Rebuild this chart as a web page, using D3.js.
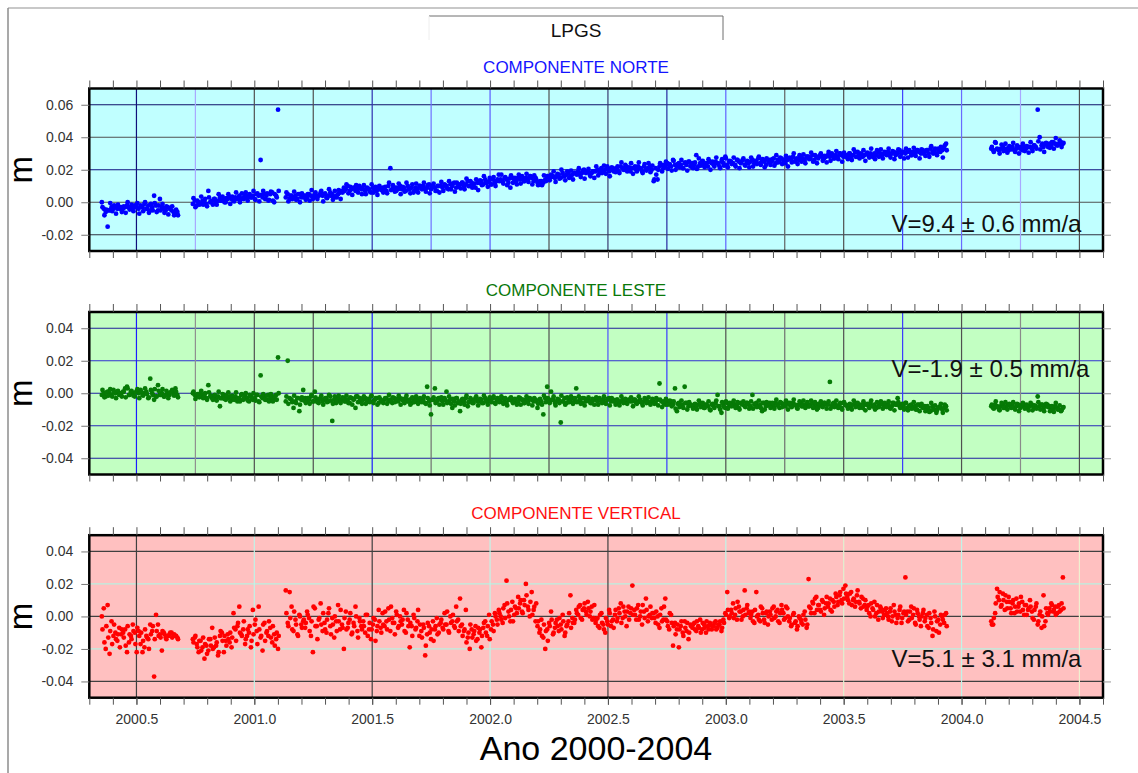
<!DOCTYPE html>
<html><head><meta charset="utf-8">
<script src="https://cdn.jsdelivr.net/npm/d3@7"></script>
<style>
body{margin:0;background:#fff}
svg{display:block}
text{font-family:"Liberation Sans",Arial,Helvetica,sans-serif}
</style>
</head><body>
<svg id="c" width="1138" height="773"></svg>
<script>
// ---------------- DATA ----------------
const stationName = "LPGS";
const xAxisTitle = "Ano 2000-2004";
const yAxisTitle = "m";
const panelTitles = ["COMPONENTE NORTE", "COMPONENTE LESTE", "COMPONENTE VERTICAL"];
const velocityLabels = ["V=9.4 \u00b1 0.6 mm/a", "V=-1.9 \u00b1 0.5 mm/a", "V=5.1 \u00b1 3.1 mm/a"];
const xTickLabels = [2000.5, 2001.0, 2001.5, 2002.0, 2002.5, 2003.0, 2003.5, 2004.0, 2004.5];
const yTicksNorte = [-0.02, 0.00, 0.02, 0.04, 0.06];
const yTicksLeste = [-0.04, -0.02, 0.00, 0.02, 0.04];
const yTicksVertical = [-0.04, -0.02, 0.00, 0.02, 0.04];

// epochs (set 1): days since 2000.0
const epochDays = [
129,132,135,138,141,144,147,150,153,156,159,162,165,168,171,174,177,180,183,186,
189,192,195,198,201,204,207,210,213,216,219,222,225,228,231,234,237,240,243,246,
270,273,276,279,282,285,288,291,294,297,300,303,306,309,312,315,318,321,324,327,
330,333,336,339,342,345,348,351,354,357,360,363,366,369,372,375,378,381,384,387,
390,393,396,399,402,
414,417,420,423,426,429,432,435,438,441,444,447,450,453,456,459,462,465,468,471,
474,477,480,483,486,489,492,495,498,501,504,507,510,513,516,519,522,525,528,531,
534,537,540,543,546,549,552,555,558,561,564,567,570,573,576,579,582,585,588,591,
594,597,600,603,606,609,612,615,618,621,624,627,630,633,636,639,642,645,648,651,
654,657,660,663,666,669,672,675,678,681,684,687,690,693,696,699,702,705,708,711,
714,717,720,723,726,729,732,735,738,741,744,747,750,753,756,759,762,765,768,771,
774,777,780,783,786,789,792,795,798,801,804,807,810,813,816,819,822,825,828,831,
834,837,840,843,846,849,852,855,858,861,864,867,870,873,876,879,882,885,888,891,
894,897,900,903,906,909,912,915,918,921,924,927,930,933,936,939,942,945,948,951,
954,957,960,963,966,969,972,975,978,981,984,987,990,993,996,999,1002,1005,1008,1011,
1014,1017,1020,1023,1026,1029,1032,1035,1038,1041,1044,1047,1050,1053,1056,1059,1062,1065,1068,1071,
1074,1077,1080,1083,1086,1089,1092,1095,1098,1101,1104,1107,1110,1113,1116,1119,1122,1125,1128,1131,
1134,1137,1140,1143,1146,1149,1152,1155,1158,1161,1164,1167,1170,1173,1176,1179,1182,1185,1188,1191,
1194,1197,1200,1203,1206,1209,1212,1215,1218,1221,1224,1227,1230,1233,1236,1239,1242,1245,1248,1251,
1254,1257,1260,1263,1266,1269,1272,1275,1278,1281,1284,1287,1290,1293,1296,1299,1302,1305,1308,1311,
1314,1317,1320,1323,1326,1329,1332,1335,1338,1341,1344,1347,1350,1353,1356,1359,1362,1365,1368,1371,
1374,1377,1380,1383,1386,1389,1392,1395,1398,1401,1404,1407,1410,1413,1416,1419,1422,1425,1428,1431,
1434,1437,
1507,1510,1513,1516,1519,1522,1525,1528,1531,1534,1537,1540,1543,1546,1549,1552,1555,1558,1561,1564,
1567,1570,1573,1576,1579,1582,1585,1588,1591,1594,1597,1600,1603,1606,1609,1612,1615,1618
];

// epochs (set 2): days since 2000.0
const epochDays2 = [
130,133,136,139,142,145,148,151,154,157,160,163,166,169,172,175,178,181,184,187,
190,193,196,199,202,205,208,211,214,217,220,223,226,229,232,235,238,241,244,247,
271,274,277,280,283,286,289,292,295,298,301,304,307,310,313,316,319,322,325,328,
331,334,337,340,343,346,349,352,355,358,361,364,367,370,373,376,379,382,385,388,
391,394,397,400,403,
415,418,421,424,427,430,433,436,439,442,445,448,451,454,457,460,463,466,469,472,
475,478,481,484,487,490,493,496,499,502,505,508,511,514,517,520,523,526,529,532,
535,538,541,544,547,550,553,556,559,562,565,568,571,574,577,580,583,586,589,592,
595,598,601,604,607,610,613,616,619,622,625,628,631,634,637,640,643,646,649,652,
655,658,661,664,667,670,673,676,679,682,685,688,691,694,697,700,703,706,709,712,
715,718,721,724,727,730,733,736,739,742,745,748,751,754,757,760,763,766,769,772,
775,778,781,784,787,790,793,796,799,802,805,808,811,814,817,820,823,826,829,832,
835,838,841,844,847,850,853,856,859,862,865,868,871,874,877,880,883,886,889,892,
895,898,901,904,907,910,913,916,919,922,925,928,931,934,937,940,943,946,949,952,
955,958,961,964,967,970,973,976,979,982,985,988,991,994,997,1000,1003,1006,1009,1012,
1015,1018,1021,1024,1027,1030,1033,1036,1039,1042,1045,1048,1051,1054,1057,1060,1063,1066,1069,1072,
1075,1078,1081,1084,1087,1090,1093,1096,1099,1102,1105,1108,1111,1114,1117,1120,1123,1126,1129,1132,
1135,1138,1141,1144,1147,1150,1153,1156,1159,1162,1165,1168,1171,1174,1177,1180,1183,1186,1189,1192,
1195,1198,1201,1204,1207,1210,1213,1216,1219,1222,1225,1228,1231,1234,1237,1240,1243,1246,1249,1252,
1255,1258,1261,1264,1267,1270,1273,1276,1279,1282,1285,1288,1291,1294,1297,1300,1303,1306,1309,1312,
1315,1318,1321,1324,1327,1330,1333,1336,1339,1342,1345,1348,1351,1354,1357,1360,1363,1366,1369,1372,
1375,1378,1381,1384,1387,1390,1393,1396,1399,1402,1405,1408,1411,1414,1417,1420,1423,1426,1429,1432,
1435,1438,
1508,1511,1514,1517,1520,1523,1526,1529,1532,1535,1538,1541,1544,1547,1550,1553,1556,1559,1562,1565,
1568,1571,1574,1577,1580,1583,1586,1589,1592,1595,1598,1601,1604,1607,1610,1613,1616,1619
];

// north component, mm (set 1)
const norteMM = [
0,-4,-6,-15,-5,-3,-4,-3,-4,-3,-3,-4,-3,-2,-3,-4,-3,-2,-3,-4,
-2,-3,-1,-4,-2,-5,-3,4,-2,-5,2,-3,-4,-5,-3,-4,-5,-6,-7,-6,
-1,1,-2,0,-1,1,0,-1,7,0,1,2,0,1,3,1,2,0,2,3,
2,1,3,2,4,2,3,5,3,4,3,4,2,5,4,26,3,5,4,1,
5,6,0,4,57,
3,5,2,4,3,4,2,5,3,4,4,3,5,4,2,5,3,4,6,4,
5,3,4,6,5,3,4,5,6,7,9,8,10,7,8,9,7,8,10,8,
8,7,9,8,6,9,8,7,9,8,9,8,7,10,21,8,9,7,8,10,
8,9,7,10,8,9,6,9,8,10,9,10,8,9,11,8,10,9,7,10,
10,9,11,10,8,11,10,12,9,11,11,12,10,11,13,10,12,11,9,12,
12,13,11,14,12,13,11,14,12,13,17,14,13,15,14,12,9,15,14,13,
15,14,16,13,15,14,16,15,13,15,12,11,13,12,14,16,15,17,16,15,
16,17,15,18,16,17,18,16,17,18,18,19,17,18,20,18,19,17,18,19,
19,20,18,21,19,20,22,19,20,21,20,21,19,22,21,20,22,21,19,21,
21,20,22,21,19,22,20,21,22,20,13,21,14,22,23,21,22,24,23,22,
26,23,22,24,23,21,24,23,25,22,24,23,29,22,24,25,23,24,22,25,
24,23,25,24,22,25,24,28,23,25,25,24,23,26,25,24,26,23,25,24,
25,26,24,25,27,24,26,25,23,26,26,25,27,24,26,25,27,26,24,26,
27,26,28,25,27,26,28,27,26,28,28,27,29,26,28,27,29,28,27,28,
29,28,30,27,29,28,30,29,28,29,29,30,28,29,31,28,29,30,28,29,
30,29,30,28,30,29,31,30,29,30,30,31,29,30,31,29,30,32,30,31,
30,31,32,29,31,30,32,31,30,32,31,32,30,33,31,32,30,33,31,32,
33,36,
33,32,37,33,32,33,34,32,33,32,33,34,32,33,34,33,32,34,33,34,
34,33,35,34,57,40,35,34,36,35,36,35,37,36,35,36,37,36
];
// north component, mm (set 2)
const norteMM2 = [
-3,-8,-4.5,-5,-0.5,-5.5,-2,-7,-1.5,-4,-6,-2.5,-6.5,0,-4.5,-1.5,-5.5,-3,-0.5,-7,
-2.5,-5.5,0,-4,-6.5,-1,-5,-0.5,-6,-2,-5,-1,-6.5,-2.5,-7.5,-3.5,-2.5,-8,-4.5,-8,
2.5,-3,1,-1.5,3.5,-1.5,2,-2.5,3,0.5,-1.5,2,-1.5,5,1,3.5,0,2.5,5,-1,
3.5,0.5,6,2.5,0,5.5,2,6,1,5,3,7,1.5,5.5,0.5,4.5,7,2,5.5,1.5,
6.5,1,5,3,7,
6,0.5,4,2,6.5,1.5,5,0,5.5,3,1.5,5,1,7.5,3,6,2,4.5,7,0.5,
5.5,2.5,8,4,1.5,7,3,7.5,2,6,7,11,5.5,9.5,4.5,8.5,10.5,6,9,5,
10.5,5,8.5,6.5,11,6,9.5,4.5,10,7.5,6,9.5,5.5,12,7.5,10.5,6.5,9,11.5,5,
9.5,6.5,12,8,5.5,11,7,11.5,6,10,8,12,6.5,10.5,5.5,9.5,11.5,7,10,6,
12.5,7,10.5,8.5,13,8,11.5,6.5,12,9.5,8.5,12,8,14.5,10,13,9,11.5,14,7.5,
13.5,10.5,16,12,9.5,15,11,15.5,10,14,13,17,11.5,15.5,10.5,14.5,16.5,12,15,11,
17,11.5,15,13,17.5,12.5,16,11,16.5,14,10.5,13,10.5,16.5,13,16,13.5,15.5,19,12.5,
17.5,14.5,20,16,13.5,19,15,19.5,14,18,17,21,15.5,19.5,14.5,18.5,20.5,16,19,15,
22,16.5,20,18,22.5,17.5,21,16,21.5,19,18.5,22,18,24.5,20,23,19,21.5,24,17.5,
22,19,24.5,20.5,18,23.5,19.5,24,18.5,22.5,14,17,20,24,19,23,25,20.5,23.5,19.5,
25.5,20,23.5,21.5,26,21,24.5,19.5,25,22.5,21,24.5,20.5,27,22.5,25.5,21.5,24,26.5,20,
25,22,27.5,23.5,21,26.5,22.5,27,21.5,25.5,23.5,27.5,22,26,21,25,27,22.5,25.5,21.5,
27.5,22,25.5,23.5,28,23,26.5,21.5,27,24.5,23,26.5,22.5,29,24.5,27.5,23.5,26,28.5,22,
27.5,24.5,30,26,23.5,29,25,29.5,24,28,26.5,30.5,25,29,24,28,30,25.5,28.5,24.5,
31,25.5,29,27,31.5,26.5,30,25,30.5,28,26.5,30,26,32.5,28,31,27,29.5,32,25.5,
30.5,27.5,33,29,26.5,32,28,32.5,27,31,29,33,27.5,31.5,26.5,30.5,32.5,28,31,27,
33,27.5,31,29,33.5,28.5,32,27,32.5,30,28.5,32,28,34.5,30,33,29,31.5,34,27.5,
35,32,
34,31,36.5,32.5,30,35.5,31.5,36,30.5,34.5,32.5,36.5,31,35,30,34,36,31.5,34.5,30.5,
37,31.5,35,33,37.5,32.5,36,31,36.5,34,33.5,37,33,39.5,35,38,34,36.5
];

// east component, mm (set 1)
const lesteMM = [
-1,0,-2,1,0,-1,2,0,1,-1,0,1,3,4,-1,1,0,-2,1,0,
2,-1,0,1,-3,9,0,-4,-2,5,-1,0,-2,-1,0,-1,1,0,3,-1,
0,-1,-2,-1,0,-2,-1,-3,5,-2,-3,-2,-4,-2,-8,-3,-1,-4,-3,-2,
-4,-3,-2,-5,-3,-1,-4,-2,-3,-5,-2,-4,-3,-1,-5,11,-3,-2,-4,-1,
-3,-2,-4,-1,22,
-5,20,-3,-4,-9,-5,-3,-11,-4,2,-3,-5,-4,-2,-5,1,-4,-6,-3,-5,
-4,-3,-5,-2,-17,-4,-6,-3,-5,-4,-3,-5,-4,-6,-3,-4,-9,-2,-5,-4,
-4,-3,-5,-4,-2,-5,-4,-3,-6,-4,-5,-4,-3,-5,-4,-6,-3,-4,-5,-3,
-4,-5,-3,-5,-4,-6,-4,-3,-5,-4,-5,-4,-6,4,-5,-13,-4,3,-5,-3,
-4,-5,-3,1,-5,-4,-9,-5,-3,-6,-11,-4,-5,-3,-8,-5,-4,-6,-3,-5,
-5,-4,-6,-3,-5,-4,-5,-3,-6,-4,-4,-5,-3,-5,-6,-4,-3,-5,-4,-5,
-5,-3,-4,-6,-4,-5,-3,-4,-5,-4,-9,-4,-5,-13,-3,4,-5,1,-4,-6,
-5,-4,-18,-5,-3,-6,-4,-5,-3,-5,3,-5,-4,-6,-3,-5,-4,-5,-6,-4,
-4,-5,-3,-5,-4,-6,-4,-3,-5,-4,-5,-4,-6,-5,-4,-5,-6,-4,-5,-5,
-4,-6,-5,-4,-6,-5,-4,-5,-6,-5,-5,-6,-4,6,-5,-6,-7,-5,-6,-5,
-7,3,-11,-6,-8,-7,4,-6,-8,-7,-8,-7,-9,-7,-6,-8,-9,-7,-8,-10,
-7,-8,-6,-1,-8,-12,-7,-9,-6,-8,-7,-6,-8,-7,-9,-6,-7,-8,-6,-7,
-8,-1,-7,-6,-8,-7,-11,-6,-8,-7,-6,-7,-8,-6,-7,-9,-6,-7,-8,-6,
-7,-8,-6,-7,-9,-7,-6,-8,-7,-8,-8,-7,-6,-8,-7,-9,-7,-8,-6,-7,
-7,7,-8,-6,-7,-8,-7,-9,-6,-7,-8,-7,-9,-7,-6,-8,-7,-8,-9,-7,
-7,-8,-6,-8,-7,-9,-8,-7,-6,-8,-8,-7,-9,-8,-6,-7,-3,-8,-7,-8,
-6,-9,-8,-7,-9,-8,-10,-7,-8,-9,-8,-10,-9,-11,-8,-10,-12,-9,-8,-10,
-9,-8,
-8,-9,-7,-8,-10,-8,-7,-9,-8,-7,-8,-7,-9,-8,-7,-9,-8,-7,-8,-9,
-8,-7,-9,-8,-2,-8,-7,-9,-8,-7,-8,-9,-10,-8,-9,-10,-11,-9
];
// east component, mm (set 2)
const lesteMM2 = [
2,-2.5,0.5,-1.5,2.5,-2,1,-3,1.5,-0.5,-2,1,-2.5,3,-1,1.5,-1.5,0.5,2.5,-3,
1,-1.5,3,-0.5,-2.5,2,-1,2.5,-2,1.5,-1,2.5,-2,1.5,-3,0.5,2,-1.5,1,-2.5,
1,-3.5,-0.5,-2.5,1.5,-3,0,-4,0.5,-1.5,-4,-1,-4.5,1,-3,-0.5,-3.5,-1.5,0.5,-5,
-1.5,-4,0.5,-3,-5,-0.5,-3.5,0,-4.5,-1,-3.5,0,-4.5,-1,-5.5,-2,-0.5,-4,-1.5,-5,
-0.5,-5,-2,-4,0,
-2,-6.5,-3.5,-5.5,-1.5,-6,-3,-7,-2.5,-4.5,-6,-3,-6.5,-1,-5,-2.5,-5.5,-3.5,-1.5,-7,
-3,-5.5,-1,-4.5,-6.5,-2,-5,-1.5,-6,-2.5,-5,-1.5,-6,-2.5,-7,-3.5,-2,-5.5,-3,-6.5,
-2,-6.5,-3.5,-5.5,-1.5,-6,-3,-7,-2.5,-4.5,-6,-3,-6.5,-1,-5,-2.5,-5.5,-3.5,-1.5,-7,
-3.5,-6,-1.5,-5,-7,-2.5,-5.5,-2,-6.5,-3,-5.5,-2,-6.5,-3,-7.5,-4,-2.5,-6,-3.5,-7,
-2.5,-7,-4,-6,-2,-6.5,-3.5,-7.5,-3,-5,-6.5,-3.5,-7,-1.5,-5.5,-3,-6,-4,-2,-7.5,
-3.5,-6,-1.5,-5,-7,-2.5,-5.5,-2,-6.5,-3,-5.5,-2,-6.5,-3,-7.5,-4,-2.5,-6,-3.5,-7,
-2.5,-7,-4,-6,-2,-6.5,-3.5,-7.5,-3,-5,-6.5,-3.5,-7,-1.5,-5.5,-3,-6,-4,-2,-7.5,
-3.5,-6,-1.5,-5,-7,-2.5,-5.5,-2,-6.5,-3,-5.5,-2,-6.5,-3,-7.5,-4,-2.5,-6,-3.5,-7,
-2.5,-7,-4,-6,-2,-6.5,-3.5,-7.5,-3,-5,-7,-4,-7.5,-2,-6,-3.5,-6.5,-4.5,-2.5,-8,
-4,-6.5,-2,-5.5,-7.5,-3,-6,-2.5,-7,-3.5,-6.5,-3,-7.5,-4,-8.5,-5,-3.5,-7,-4.5,-8,
-5,-9.5,-6.5,-8.5,-4.5,-9,-6,-10,-5.5,-7.5,-9.5,-6.5,-10,-4.5,-8.5,-6,-9,-7,-5,-10.5,
-6.5,-9,-4.5,-8,-10,-5.5,-8.5,-5,-9.5,-6,-8,-4.5,-9,-5.5,-10,-6.5,-5,-8.5,-6,-9.5,
-5,-9.5,-6.5,-8.5,-4.5,-9,-6,-10,-5.5,-7.5,-9,-6,-9.5,-4,-8,-5.5,-8.5,-6.5,-4.5,-10,
-6,-8.5,-4,-7.5,-9.5,-5,-8,-4.5,-9,-5.5,-8,-4.5,-9,-5.5,-10,-6.5,-5,-8.5,-6,-9.5,
-5,-9.5,-6.5,-8.5,-4.5,-9,-6,-10,-5.5,-7.5,-9.5,-6.5,-10,-4.5,-8.5,-6,-9,-7,-5,-10.5,
-6.5,-9,-4.5,-8,-10,-5.5,-8.5,-5,-9.5,-6,-8.5,-5,-9.5,-6,-10.5,-7,-5.5,-9,-6.5,-10,
-6,-10.5,-7.5,-9.5,-5.5,-10,-7,-11,-6.5,-8.5,-11,-8,-11.5,-6,-10,-7.5,-10.5,-8.5,-6.5,-12,
-7,-10.5,
-7,-9.5,-5,-8.5,-10.5,-6,-9,-5.5,-10,-6.5,-9,-5.5,-10,-6.5,-11,-7.5,-6,-9.5,-7,-10.5,
-6,-10.5,-7.5,-9.5,-5.5,-10,-7,-11,-6.5,-8.5,-11,-8,-11.5,-6,-10,-7.5,-10.5,-8.5
];

// vertical component, mm (set 1)
const verticalMM = [
0,5,-20,7,-23,-3,-12,-10,-15,-7,-11,-10,-8,-22,-16,-12,-5,-10,-22,-9,
-17,-22,-19,-12,-14,-5,-9,-37,1,-5,-11,-21,-10,-13,-12,-11,-10,-12,-12,-13,
-14,-13,-17,-22,-15,-19,-26,-18,-21,-14,-7,-19,-18,-24,-12,-10,-22,-15,-11,-16,
-19,2,-8,-6,6,-11,-8,-17,-12,-10,-19,4,-5,-9,6,-13,-21,-4,-10,-12,
-7,-16,-11,-14,-20,
16,-4,15,6,-9,-2,-11,1,-5,-3,-7,3,-1,-12,-22,5,-6,-2,8,-9,
-4,-10,2,-6,-1,-13,-3,7,-8,-5,-20,3,-7,-2,-11,-4,6,-9,-1,-6,
-3,-10,1,-8,-14,-5,-2,-9,4,-7,2,-6,-3,5,-9,-1,-4,3,-7,0,
-5,4,-10,-2,-19,-6,1,-8,-3,-12,-9,-5,-24,-11,-6,-14,-3,-8,-1,-10,
-4,-7,2,-5,-9,0,-3,-6,6,-2,11,-5,-9,4,-13,-20,-8,-11,-6,-14,
-10,-19,-7,-3,-12,1,-8,-5,2,-2,4,0,-4,7,22,3,-3,9,1,5,
12,8,3,10,20,6,0,15,4,-3,-6,-10,-2,-13,-20,-8,-4,3,-11,-7,
-2,-9,-5,1,-12,-6,-3,13,-1,-4,4,1,7,-2,5,3,9,0,6,-1,
-4,-1,-7,2,-5,-10,-3,4,-6,-2,1,-3,5,8,-1,3,-6,6,2,19,
4,-2,7,0,-5,3,11,-3,1,-1,2,-4,0,-7,5,-2,11,-3,-8,1,
-18,-4,-8,-19,-6,-10,-3,-9,-14,-5,-7,-4,-9,-6,-2,-8,-5,-10,-6,-4,
-8,-6,-3,-7,-5,-9,-2,2,15,-1,4,8,1,-2,6,3,0,16,5,2,
-1,3,-4,15,1,-3,5,-2,2,-5,3,-2,6,0,4,-4,7,2,-1,5,
-3,-6,1,-4,-8,0,-2,-5,3,-7,23,5,9,2,12,7,4,10,1,8,
6,11,3,9,14,7,13,10,17,19,12,8,15,10,6,13,9,5,11,7,
4,7,0,5,9,2,-2,6,3,1,5,0,3,-3,7,1,-1,4,-4,2,
24,3,-2,6,1,-4,4,0,-6,2,-3,1,-7,-1,-12,3,-9,-2,-5,0,
-4,2,
-3,-5,2,17,10,6,14,4,9,12,5,8,2,11,6,3,9,1,7,4,
10,3,-2,6,-5,1,-7,13,-3,2,5,8,3,6,2,7,4,24
];
// vertical component, mm (set 2)
const verticalMM2 = [
-8,-16,-6,-13,-9,-17,-5,-14,-11,-19,-8,-13,-18,-6,-11,-14,-9,-17,-7,-12,
-10,-15,-8,-13,-20,-11,-6,-14,-9,-12,-13,-9,-11,-14,-12,-10,-13,-11,-12,-14,
-16,-12,-19,-15,-21,-13,-17,-23,-14,-18,-20,-13,-16,-22,-9,-15,-12,-18,-14,-10,
-13,-7,-15,-4,-10,-12,-3,-14,-8,-6,-15,-11,-2,-17,-8,-12,-5,-15,-9,-3,
-13,-6,-18,-10,-12,
2,-6,-1,-8,3,-5,-12,0,-7,-2,-4,1,-9,-3,6,-6,-14,-1,-5,2,
-8,-2,5,-11,-5,0,-9,-3,4,-7,-1,-8,-4,2,-10,-6,0,-13,-3,-8,
-6,1,-12,-4,-8,-1,-15,-6,-3,-10,-5,3,-8,-2,6,-4,-11,1,-6,-3,
-2,-9,2,-6,-4,-12,-1,-7,4,-5,-13,-7,-18,-4,-10,-8,-15,-6,-11,-5,
-2,-8,-5,3,-10,-4,1,-7,-3,-9,-6,-12,-8,-16,-10,-5,-13,-9,-15,-7,
-8,-12,-4,-10,-6,-14,-3,-9,0,-5,2,-2,5,-1,8,0,4,-3,6,2,
5,10,2,7,13,4,9,1,6,8,-3,-8,-12,-5,-9,-15,-6,-2,-10,-4,
-6,-1,-8,-3,-10,-5,2,-7,-4,-2,2,6,-1,4,8,1,5,3,-2,7,
-2,-6,1,-4,-8,-1,-5,2,-3,-7,4,-1,2,-4,6,0,3,-2,5,1,
1,5,-2,3,7,-1,4,0,6,2,-1,3,-5,1,-3,6,-2,-6,2,-4,
-6,-11,-5,-8,-3,-12,-7,-4,-10,-6,-5,-8,-3,-7,-10,-4,-7,-3,-8,-5,
-6,-4,-8,-5,-3,-7,-4,1,4,0,2,-1,5,9,3,-2,4,1,7,3,
1,-3,4,0,-2,6,2,-4,3,0,1,5,-1,3,-3,2,4,-2,6,0,
-1,-5,2,-3,-6,-1,-4,1,-2,-5,6,2,8,11,4,7,3,9,5,12,
8,4,10,6,12,9,15,8,11,14,10,14,7,11,9,16,8,12,6,10,
6,2,8,4,0,7,3,5,-1,4,2,-2,5,0,3,-4,1,6,-1,3,
1,-3,3,-1,5,-5,2,-2,0,4,-1,-6,2,-4,-8,0,-3,-10,1,-2,
1,-6,
-5,-1,8,12,15,7,10,13,5,9,2,10,6,3,8,12,4,7,1,5,
6,-1,4,8,-3,3,0,-6,5,1,3,7,4,1,6,3,8,5
];

// ---------------- STYLE ----------------
const panelFills = ["#c0ffff", "#c2ffc2", "#ffc0c0"];
const dotColors = ["#0000ff", "#067a06", "#ff0000"];
const titleColors = ["#1414ff", "#0a780a", "#ff1010"];
const hGridColors = [
  {"-0.02":"#303040","0":"#505050","0.02":"#101080","0.04":"#505050","0.06":"#10106a"},
  {"-0.04":"#2020a0","-0.02":"#2828b8","0":"#2020a0","0.02":"#3030d0","0.04":"#20209a"},
  {"-0.04":"#404040","-0.02":"#b8f0e0","0":"#404040","0.02":"#b8f0e0","0.04":"#404040"}
];
const vGridColors = [
  {"2000.5":"#10107a","2000.75":"#a8a8ff","2001":"#505050","2001.25":"#505050","2001.5":"#3030b0","2001.75":"#7070ff","2002":"#5a5aff","2002.25":"#505050","2002.5":"#3a3a70","2002.75":"#2828a0","2003":"#6060ff","2003.25":"#606060","2003.5":"#505050","2003.75":"#4040ff","2004":"#6a6aff","2004.25":"#a8a8ff","2004.5":"#505050"},
  {"2000.5":"#1c1cff","2000.75":"#909090","2001":"#505050","2001.25":"#505050","2001.5":"#1c1cff","2001.75":"#707070","2002":"#707070","2002.25":"#505050","2002.5":"#5050ff","2002.75":"#3a3aff","2003":"#505050","2003.25":"#707070","2003.5":"#505050","2003.75":"#3a3aff","2004":"#505050","2004.25":"#8a8a8a","2004.5":"#505050"},
  {"2000.5":"#404040","2001":"#c0f4e8","2001.5":"#404040","2002":"#c0f4e8","2002.5":"#404040","2003":"#c0f4e8","2003.5":"#e0f0d0","2004":"#c0f4e8","2004.5":"#f0f0d0"}
];
const velocityPos = [[2003.703, -0.0185], [2003.703, 0.0098], [2003.703, -0.031]];

// ---------------- DRAW ----------------
const svg = d3.select("#c");
svg.append("rect").attr("width",1138).attr("height",773).attr("fill","#fff");
svg.append("line").attr("x1",8).attr("y1",8).attr("x2",1138).attr("y2",8).attr("stroke","#c8c8c8").attr("stroke-width",2);
svg.append("line").attr("x1",8).attr("y1",8).attr("x2",8).attr("y2",773).attr("stroke","#8c8c8c").attr("stroke-width",1.5);

svg.append("line").attr("x1",429).attr("y1",16).attr("x2",723).attr("y2",16).attr("stroke","#6e6e6e").attr("stroke-width",1);
svg.append("line").attr("x1",723).attr("y1",16).attr("x2",723).attr("y2",40).attr("stroke","#6e6e6e").attr("stroke-width",1);
svg.append("line").attr("x1",429).attr("y1",16).attr("x2",429).attr("y2",40).attr("stroke","#eeeeee").attr("stroke-width",1);
svg.append("text").attr("x",576).attr("y",36.5).attr("text-anchor","middle").attr("font-size",19).attr("fill","#111").text(stationName);

const L = 89.3, R = 1103;
const tops = [88.5, 312, 535.2];
const ph = 162.5;
const x = d3.scaleLinear().domain([2000.3, 2004.6]).range([L, R]);
const fmt = d3.formatLocale({decimal:".", thousands:",", grouping:[3], currency:["",""], minus:"-"}).format;
const toYear = d => 2000 + d / 365.25;
const series = [[norteMM, norteMM2], [lesteMM, lesteMM2], [verticalMM, verticalMM2]];
const epochSets = [epochDays, epochDays2];
const yDomains = [[-0.03, 0.07], [-0.05, 0.05], [-0.05, 0.05]];
const yTicks = [yTicksNorte, yTicksLeste, yTicksVertical];
const minorTicks = d3.range(3, 47).map(i => 2000 + i / 10);

series.forEach((sets, p) => {
  const top = tops[p];
  const y = d3.scaleLinear().domain(yDomains[p]).range([top + ph, top]);
  const g = svg.append("g");
  g.append("rect").attr("x", L).attr("y", top).attr("width", R - L).attr("height", ph).attr("fill", panelFills[p]);

  Object.entries(hGridColors[p]).forEach(([v, c]) => {
    g.append("line").attr("x1", L).attr("x2", R).attr("y1", y(+v)).attr("y2", y(+v)).attr("stroke", c).attr("stroke-width", 1.2);
  });
  Object.entries(vGridColors[p]).forEach(([v, c]) => {
    g.append("line").attr("x1", x(+v)).attr("x2", x(+v)).attr("y1", top).attr("y2", top + ph).attr("stroke", c).attr("stroke-width", 1.2);
  });

  const pts = [];
  sets.forEach((vals, k) => {
    const ep = epochSets[k];
    const n = Math.min(vals.length, ep.length);
    for (let i = 0; i < n; i++) pts.push([toYear(ep[i]), vals[i] / 1000]);
  });
  g.append("g").selectAll("circle").data(pts).join("circle")
    .attr("cx", d => x(d[0])).attr("cy", d => y(d[1])).attr("r", 2.4).attr("fill", dotColors[p]);

  g.append("text").attr("x", x(velocityPos[p][0])).attr("y", y(velocityPos[p][1]))
    .attr("font-size", 24).attr("fill", "#111").text(velocityLabels[p]);

  g.append("rect").attr("x", L).attr("y", top).attr("width", R - L).attr("height", ph)
    .attr("fill", "none").attr("stroke", "#000").attr("stroke-width", 2.5);

  const ax = (sel) => { sel.select(".domain").remove(); };
  g.append("g").attr("transform", `translate(0,${top})`)
    .call(d3.axisTop(x).tickValues(minorTicks).tickSize(8).tickFormat(""))
    .call(ax).selectAll("line").attr("stroke", "#555");
  g.append("g").attr("transform", `translate(0,${top + ph})`)
    .call(d3.axisBottom(x).tickValues(minorTicks).tickSize(7).tickFormat(""))
    .call(ax).selectAll("line").attr("stroke", "#555");
  const ya = g.append("g").attr("transform", `translate(${L},0)`)
    .call(d3.axisLeft(y).tickValues(yTicks[p]).tickSize(8).tickPadding(8).tickFormat(fmt(".2f")))
    .call(ax);
  ya.selectAll("line").attr("stroke", "#777");
  ya.selectAll("text").attr("font-size", 14).attr("fill", "#333").attr("font-family", '"Liberation Sans",Arial,sans-serif');
  g.append("g").attr("transform", `translate(${R},0)`)
    .call(d3.axisRight(y).tickValues(yTicks[p]).tickSize(8).tickFormat(""))
    .call(ax).selectAll("line").attr("stroke", "#999");

  if (p === 2) {
    const xa = g.append("g").attr("transform", `translate(0,${top + ph})`)
      .call(d3.axisBottom(x).tickValues(xTickLabels).tickSize(7).tickPadding(9).tickFormat(fmt(".1f")))
      .call(ax);
    xa.selectAll("line").attr("stroke", "#555");
    xa.selectAll("text").attr("font-size", 14).attr("fill", "#333").attr("font-family", '"Liberation Sans",Arial,sans-serif');
  }

  svg.append("text").attr("x", 576).attr("y", top - 15.8).attr("text-anchor", "middle")
    .attr("font-size", 17).attr("fill", titleColors[p]).text(panelTitles[p]);

  const cy = top + ph / 2;
  svg.append("text").attr("x", 31.7).attr("y", cy).attr("text-anchor", "middle")
    .attr("transform", `rotate(-90,31.7,${cy})`).attr("font-size", 33).attr("fill", "#000").text(yAxisTitle);
});

svg.append("text").attr("x", 596).attr("y", 760).attr("text-anchor", "middle")
  .attr("font-size", 34).attr("fill", "#000").text(xAxisTitle);
</script>
</body></html>
